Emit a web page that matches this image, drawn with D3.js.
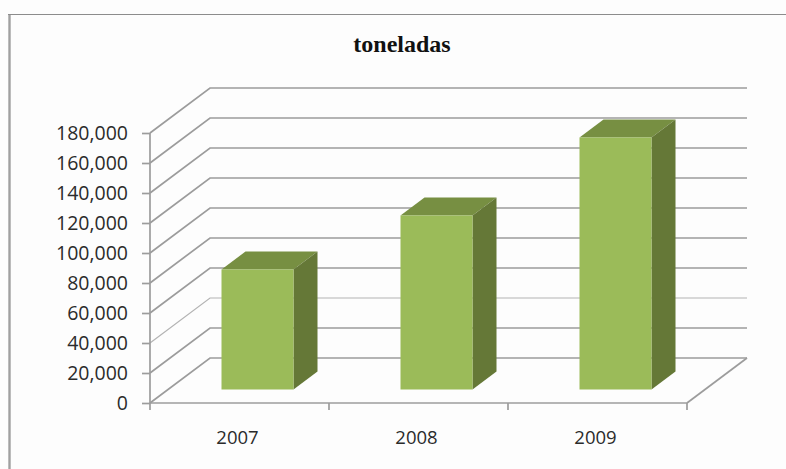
<!DOCTYPE html>
<html>
<head>
<meta charset="utf-8">
<script src="https://d3js.org/d3.v7.min.js"></script>
<style>
  html, body { margin: 0; padding: 0; background: #fdfdfd; }
  svg { display: block; }
  text { font-family: "Open Sans", sans-serif; fill: #2b2b2b; }
</style>
</head>
<body>
<div id="graph"></div>
<script>
const years = ["2007", "2008", "2009"];
const toneladas = [80000, 116000, 168000];
const yTicks = [0, 20000, 40000, 60000, 80000, 100000, 120000, 140000, 160000, 180000];

const W = 786, H = 469;
const depthX = 60, depthY = 45; // wall offset of the fake 3d box
const barNear = 0.3, barFar = 0.7; // where the bars stand inside the depth

const svg = d3.select("#graph").append("svg").attr("width", W).attr("height", H);

const xScale = d3.scaleBand().domain(years).range([150, 687]);
const yScale = d3.scaleLinear().domain([0, 180000]).range([403, 133]);
const barWidth = 72;
const fmt = d3.format(",");

/* frame */
svg.append("line")
    .attr("x1", 9.5).attr("x2", 9.5).attr("y1", 14).attr("y2", H)
    .attr("stroke", "#a0a0a0").attr("stroke-width", 2.4);
svg.append("line")
    .attr("x1", 8).attr("x2", W).attr("y1", 14.5).attr("y2", 14.5)
    .attr("stroke", "#8c8c8c").attr("stroke-width", 1.2);

/* title */
svg.append("text")
    .attr("x", 402).attr("y", 52)
    .attr("text-anchor", "middle")
    .style("font-family", "'Liberation Serif', serif")
    .style("font-weight", "bold")
    .style("font-size", "24px")
    .style("fill", "#111")
    .text("toneladas");

/* gridlines: side wall + back wall */
const [x0, x1] = xScale.range();
svg.append("g").selectAll("path")
    .data(yTicks)
    .enter()
    .append("path")
    .attr("d", d => {
        const y = yScale(d);
        return d3.line()([[x0, y], [x0 + depthX, y - depthY], [x1 + depthX, y - depthY]]);
    })
    .attr("fill", "none")
    .attr("stroke", d => d === 40000 ? "#b4b4b4" : "#9c9c9c")
    .attr("stroke-width", d => d === 40000 ? 1.2 : 1.7);

/* floor, right edge */
svg.append("path")
    .attr("d", d3.line()([[x1 + depthX, yScale(0) - depthY], [x1, yScale(0)]]))
    .attr("fill", "none").attr("stroke", "#9c9c9c").attr("stroke-width", 1.7);

/* bars */
const bars = svg.append("g").selectAll("g")
    .data(years.map((y, i) => ({ year: y, value: toneladas[i] })))
    .enter()
    .append("g");

function bx(d) {
    return xScale(d.year) + xScale.bandwidth() / 2 + barNear * depthX - barWidth / 2;
}
function by(v) {
    return yScale(v) - barNear * depthY;
}
const dx = (barFar - barNear) * depthX, dy = (barFar - barNear) * depthY;

bars.append("path") // top
    .attr("d", d => {
        const x = bx(d), y = by(d.value);
        return d3.line()([[x, y], [x + dx, y - dy], [x + barWidth + dx, y - dy], [x + barWidth, y]]) + "Z";
    })
    .attr("fill", "#778f42");
bars.append("path") // side
    .attr("d", d => {
        const x = bx(d) + barWidth, top = by(d.value), bot = by(0);
        return d3.line()([[x, top], [x + dx, top - dy], [x + dx, bot - dy], [x, bot]]) + "Z";
    })
    .attr("fill", "#657837");
bars.append("rect") // front
    .attr("x", d => bx(d))
    .attr("y", d => by(d.value))
    .attr("width", barWidth)
    .attr("height", d => by(0) - by(d.value))
    .attr("fill", "#9bbb59");

/* axes */
const xAxis = d3.axisBottom(xScale).tickSize(7).tickFormat("");
const axisX = svg.append("g").attr("transform", "translate(0," + yScale(0) + ")").call(xAxis);
axisX.selectAll(".tick").remove();
axisX.selectAll(".edge").data(d3.range(0, 4)).enter().append("line")
    .attr("x1", i => x0 + i * xScale.step()).attr("x2", i => x0 + i * xScale.step())
    .attr("y1", 0).attr("y2", 7);

const yAxis = d3.axisLeft(yScale).tickValues(yTicks).tickSize(8).tickPadding(14).tickFormat(fmt);
const axisY = svg.append("g").attr("transform", "translate(" + x0 + ",0)").call(yAxis);
axisY.selectAll("text").style("font-size", "19.5px").attr("dy", "0.34em");

svg.selectAll(".domain, g line").attr("stroke", "#9c9c9c").attr("stroke-width", 1.7);
axisX.select(".domain").attr("d", "M" + x0 + ",0H" + x1);
axisY.select(".domain").attr("d", "M0," + yScale(0) + "V" + yScale(180000));

/* year labels */
svg.append("g").selectAll("text")
    .data(years)
    .enter()
    .append("text")
    .attr("x", d => xScale(d) + xScale.bandwidth() / 2 - 2)
    .attr("y", 444)
    .attr("text-anchor", "middle")
    .style("font-size", "18.5px")
    .text(d => d);
</script>
</body>
</html>
